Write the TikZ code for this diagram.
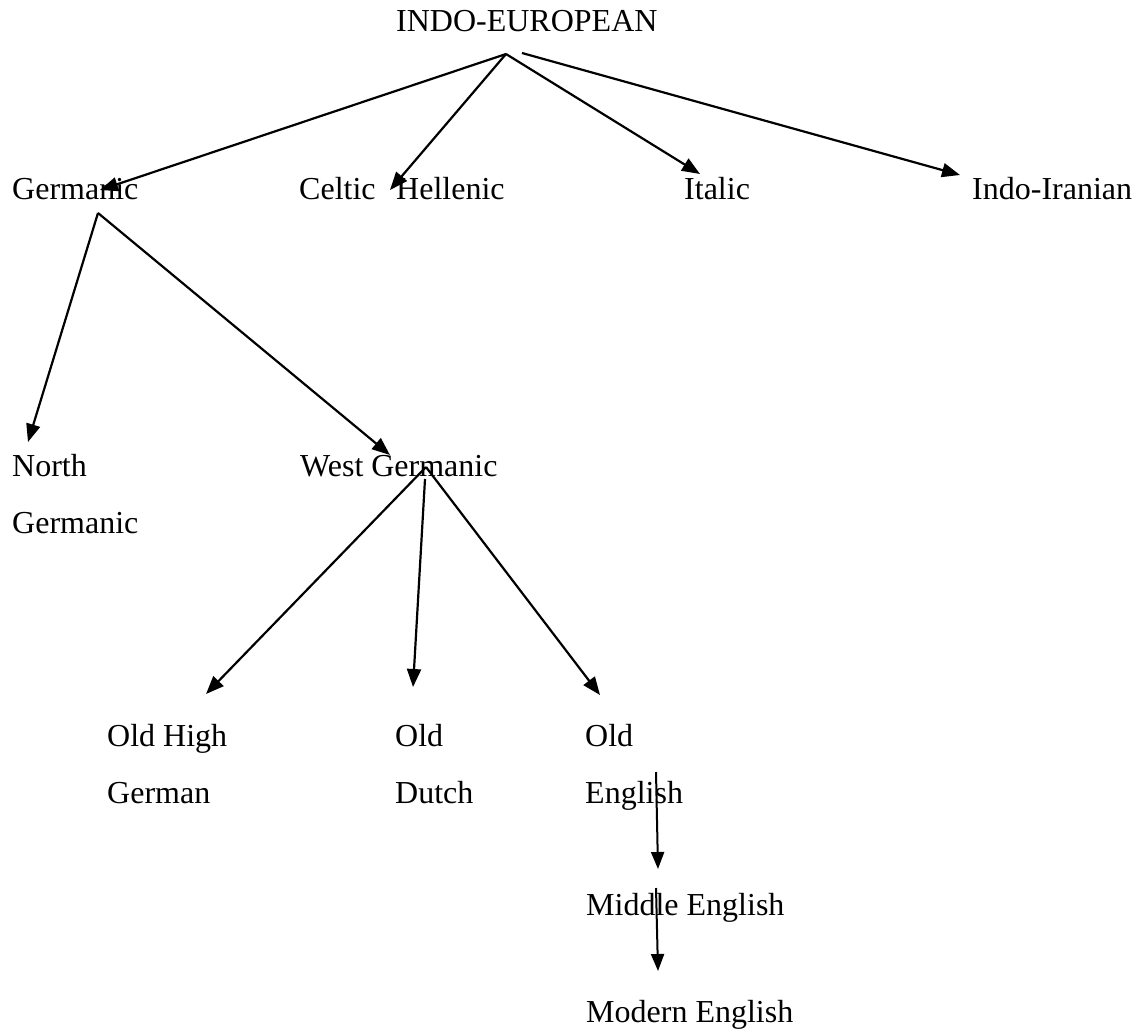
\documentclass[tikz,border=0pt]{standalone}
\usepackage{fontspec}
\setmainfont{Liberation Serif}
\usetikzlibrary{arrows.meta}
\begin{document}
\begin{tikzpicture}[x=1pt,y=-1pt,
  lbl/.style={anchor=base west,inner sep=0pt,font=\fontsize{32}{38}\selectfont},
  conn/.style={line width=2.2pt,-{Triangle[length=18pt,width=14pt]}},
  thin conn/.style={line width=2pt,-{Triangle[length=17pt,width=13pt]}}]
\useasboundingbox (0,0) rectangle (1134,1031);
% text nodes
\node[lbl] (ie) at (396,31) {INDO-EUROPEAN};
\node[lbl] (germ) at (12,199) {Germanic};
\node[lbl] (celt) at (299,199) {Celtic};
\node[lbl] (hell) at (396,199) {Hellenic};
\node[lbl] (ital) at (684,199) {Italic};
\node[lbl] (indir) at (972,199) {Indo-Iranian};
\node[lbl] (north1) at (12,476) {North};
\node[lbl] (north2) at (12,533) {Germanic};
\node[lbl] (west) at (300,476) {West Germanic};
\node[lbl] (ohg1) at (107,746) {Old High};
\node[lbl] (ohg2) at (107,803) {German};
\node[lbl] (od1) at (395,746) {Old};
\node[lbl] (od2) at (395,803) {Dutch};
\node[lbl] (oe1) at (585,746) {Old};
\node[lbl] (oe2) at (585,803) {English};
\node[lbl] (me) at (586,915) {Middle English};
\node[lbl] (mode) at (586,1022) {Modern English};
% connector end points
\coordinate (ieA) at (506,54);
\coordinate (ieB) at (522,53);
\coordinate (germT) at (100,190);
\coordinate (hellT) at (390,190);
\coordinate (italT) at (700,174);
\coordinate (indirT) at (960,175);
\coordinate (germA) at (98,213);
\coordinate (northT) at (28,442);
\coordinate (westT) at (390,455);
\coordinate (westA) at (426,467);
\coordinate (westB) at (425,479);
\coordinate (ohgT) at (206,694);
\coordinate (odT) at (413,687);
\coordinate (oeT) at (600,695);
\coordinate (oeA) at (656,772);
\coordinate (meT) at (658,869);
\coordinate (meA) at (656,888);
\coordinate (modeT) at (658,971);
% connectors
\draw[conn] (ieA) -- (germT);
\draw[conn] (ieA) -- (hellT);
\draw[conn] (ieA) -- (italT);
\draw[conn] (ieB) -- (indirT);
\draw[conn] (germA) -- (northT);
\draw[conn] (germA) -- (westT);
\draw[conn] (westA) -- (ohgT);
\draw[conn] (westB) -- (odT);
\draw[conn] (westA) -- (oeT);
\draw[thin conn] (oeA) -- (meT);
\draw[thin conn] (meA) -- (modeT);
\end{tikzpicture}
\end{document}
